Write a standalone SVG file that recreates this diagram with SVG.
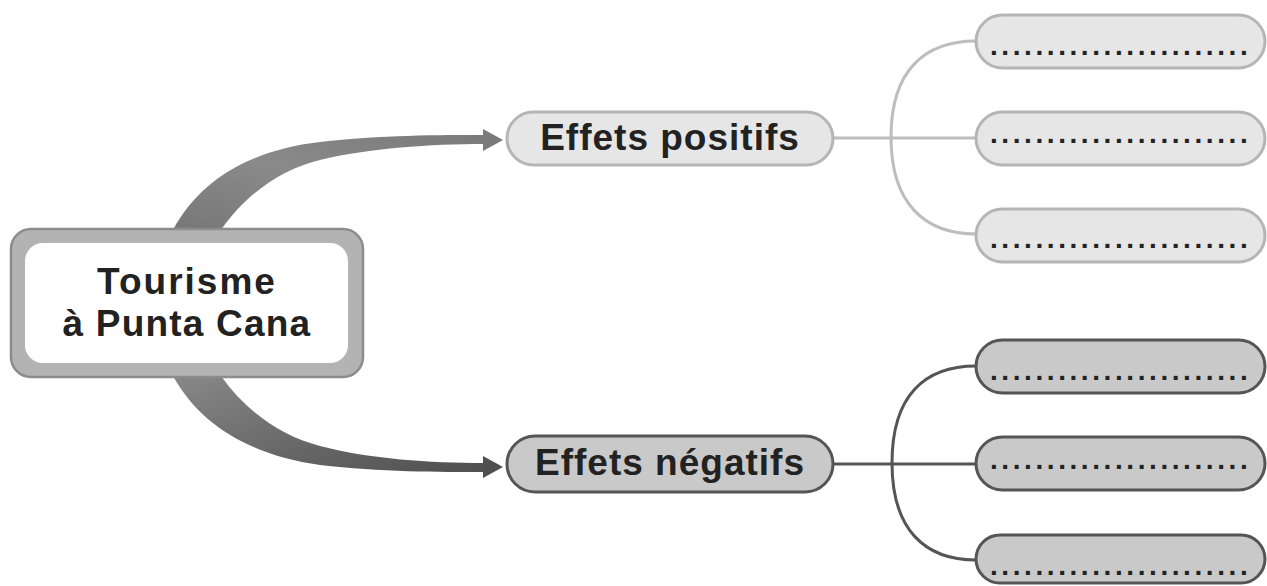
<svg xmlns="http://www.w3.org/2000/svg" width="1267" height="586" viewBox="0 0 1267 586">
<defs>
<linearGradient id="gTop" x1="0" y1="1" x2="1" y2="0">
<stop offset="0" stop-color="#777"/>
<stop offset="0.5" stop-color="#8a8a8a"/>
<stop offset="1" stop-color="#7a7a7a"/>
</linearGradient>
<linearGradient id="gBot" x1="0" y1="0" x2="1" y2="1">
<stop offset="0" stop-color="#888"/>
<stop offset="1" stop-color="#4f4f4f"/>
</linearGradient>
<style>
.lbl{font-family:"Liberation Sans",Arial,sans-serif;font-weight:bold;fill:#222;text-anchor:middle}
.dots{font-family:"Liberation Sans",Arial,sans-serif;font-weight:bold;font-size:28px;fill:#222;letter-spacing:3.58px}
.pos{fill:#e6e6e6;stroke:#b5b5b5;stroke-width:3}
.neg{fill:#c9c9c9;stroke:#555;stroke-width:3}
.lpos{fill:none;stroke:#bdbdbd;stroke-width:3}
.lneg{fill:none;stroke:#555;stroke-width:3}
</style>
</defs>
<g id="connectors">
<path d="M173,230 C200,180 250,150 320,142 C380,135 440,135 484,135 L484,144 C430,144 370,148 320,160 C280,170 245,195 221,230 Z" fill="url(#gTop)"/>
<polygon points="483,129 503,140 483,151" fill="#7a7a7a"/>
<path d="M173,376 C200,425 250,455 320,465 C380,472 440,472 484,472 L484,463 C430,463 370,459 320,446 C280,436 245,410 221,376 Z" fill="url(#gBot)"/>
<polygon points="483,456 503,467 483,478" fill="#4f4f4f"/>
<path class="lpos" d="M834,138 L976,138 M976,41 C925,41 891,70 891,137 C891,204 925,234 976,234"/>
<path class="lneg" d="M834,464 L976,464 M976,366 C925,366 892,395 892,463 C892,530 925,560 976,560"/>
</g>
<g id="center">
<rect x="11" y="229" width="352" height="148" rx="20" fill="#b3b3b3" stroke="#8c8c8c" stroke-width="2.5"/>
<rect x="25" y="243" width="323" height="120" rx="18" fill="#fff"/>
<text class="lbl" x="187" y="294" font-size="37" letter-spacing="2">Tourisme</text>
<text class="lbl" x="187" y="336" font-size="37" letter-spacing="1.2">à Punta Cana</text>
</g>
<g id="positive">
<rect class="pos" x="507" y="112" width="326" height="53" rx="26.5"/>
<text class="lbl" x="670" y="150" font-size="37" letter-spacing="1">Effets positifs</text>
</g>
<g id="negative">
<rect class="neg" x="507" y="436" width="326" height="56" rx="28"/>
<text class="lbl" x="670" y="475" font-size="37" letter-spacing="1">Effets négatifs</text>
</g>
<g id="pos1"><rect class="pos" x="976" y="15" width="289" height="53" rx="26.5"/><text class="dots" x="990" y="55">.......................</text></g>
<g id="pos2"><rect class="pos" x="976" y="112" width="289" height="53" rx="26.5"/><text class="dots" x="990" y="143">.......................</text></g>
<g id="pos3"><rect class="pos" x="976" y="209" width="289" height="53" rx="26.5"/><text class="dots" x="990" y="248">.......................</text></g>
<g id="neg1"><rect class="neg" x="976" y="340" width="289" height="53" rx="26.5"/><text class="dots" x="990" y="380">.......................</text></g>
<g id="neg2"><rect class="neg" x="976" y="437" width="289" height="53" rx="26.5"/><text class="dots" x="990" y="469">.......................</text></g>
<g id="neg3"><rect class="neg" x="976" y="535" width="289" height="48" rx="24"/><text class="dots" x="990" y="575">.......................</text></g>
</svg>
